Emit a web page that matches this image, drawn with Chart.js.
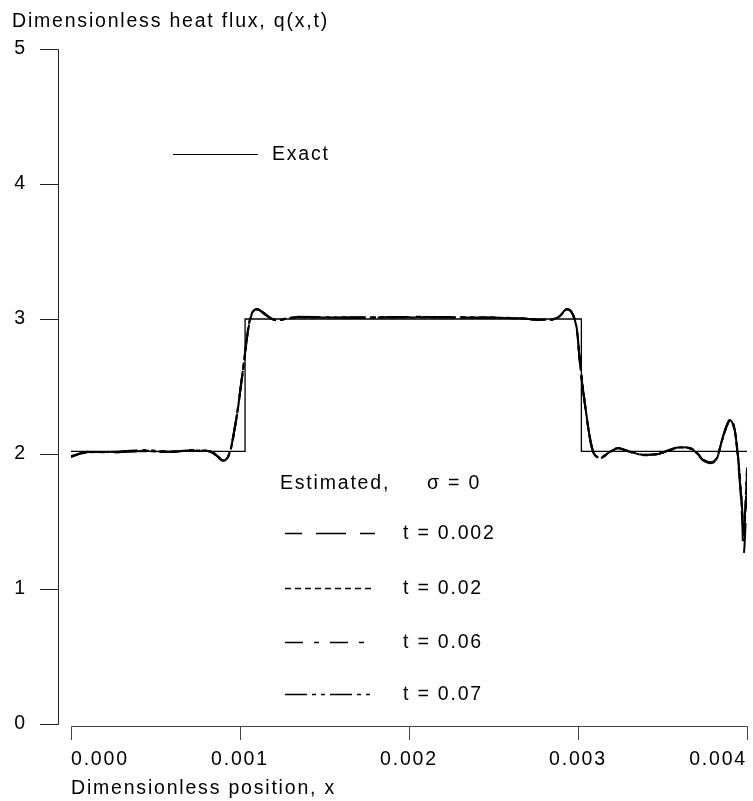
<!DOCTYPE html>
<html><head><meta charset="utf-8">
<script src="https://cdn.jsdelivr.net/npm/chart.js@4.4.1/dist/chart.umd.min.js"></script>
<style>html,body{margin:0;padding:0;background:#fff}canvas{display:block}</style>
</head><body>
<canvas id="c" width="753" height="801"></canvas>
<script>
// ---- data ----
const xTickValues = [0, 0.001, 0.002, 0.003, 0.004];
const yTickValues = [0, 1, 2, 3, 4, 5];
const yAxisTitle = 'Dimensionless heat flux, q(x,t)';
const xAxisTitle = 'Dimensionless position, x';

const exactX = [0, 0.00103, 0.00103, 0.00302, 0.00302, 0.004];
const exactQ = [2.02, 2.02, 3.0, 3.0, 2.02, 2.02];

const estX = [0.0, 0.0001, 0.00023, 0.00043, 0.00058, 0.00072, 0.00082, 0.00086, 0.0009, 0.00094,
  0.00098, 0.00102, 0.00105, 0.00107, 0.0011, 0.00114, 0.00118, 0.00122, 0.00128, 0.00134,
  0.00165, 0.00207, 0.00242, 0.00266, 0.00278, 0.00283, 0.00289, 0.002935, 0.00297, 0.002995,
  0.00301, 0.00303, 0.00309, 0.00313, 0.00319, 0.003237, 0.00329, 0.003385, 0.003467, 0.003527,
  0.003604, 0.003663, 0.003704, 0.00374, 0.003781, 0.003822, 0.003852, 0.003882, 0.003899, 0.003929,
  0.003947, 0.00397, 0.00398, 0.004];

const q_t0002 = [1.98, 2.015, 2.013, 2.022, 2.015, 2.028, 2.02, 1.99, 1.95, 2.015,
  2.28, 2.65, 2.94, 3.04, 3.075, 3.045, 3.007, 2.99, 3.005, 3.015,
  3.01, 3.015, 3.01, 3.005, 2.993, 2.993, 3.02, 3.075, 3.03, 2.9,
  2.7, 2.47, 2.015, 1.97, 2.017, 2.042, 2.024, 1.993, 1.998, 2.022,
  2.05, 2.042, 2.005, 1.956, 1.936, 1.968, 2.104, 2.215, 2.262, 2.17,
  1.95, 1.55, 1.26, 1.75];
const q_t002 = [1.985, 2.012, 2.015, 2.02, 2.018, 2.025, 2.022, 1.995, 1.955, 2.01,
  2.27, 2.64, 2.93, 3.035, 3.07, 3.04, 3.005, 2.992, 3.003, 3.012,
  3.012, 3.012, 3.012, 3.003, 2.995, 2.995, 3.018, 3.07, 3.035, 2.91,
  2.71, 2.48, 2.02, 1.975, 2.015, 2.04, 2.025, 1.995, 2.0, 2.02,
  2.048, 2.045, 2.01, 1.96, 1.94, 1.97, 2.1, 2.21, 2.25, 2.16,
  1.98, 1.61, 1.42, 1.8];
const q_t006 = [1.98, 2.016, 2.012, 2.025, 2.014, 2.03, 2.018, 1.99, 1.948, 2.02,
  2.28, 2.65, 2.945, 3.045, 3.075, 3.045, 3.008, 2.988, 3.006, 3.016,
  3.01, 3.016, 3.01, 3.006, 2.992, 2.992, 3.022, 3.075, 3.03, 2.9,
  2.69, 2.47, 2.01, 1.968, 2.018, 2.044, 2.022, 1.99, 1.996, 2.024,
  2.052, 2.04, 2.0, 1.952, 1.932, 1.965, 2.105, 2.22, 2.255, 2.165,
  1.975, 1.6, 1.4, 1.85];
const q_t007 = [1.982, 2.014, 2.014, 2.03, 2.016, 2.026, 2.02, 1.992, 1.952, 2.016,
  2.275, 2.645, 2.94, 3.04, 3.072, 3.042, 3.006, 2.99, 3.004, 3.014,
  3.011, 3.014, 3.011, 3.004, 2.994, 2.994, 3.02, 3.072, 3.032, 2.905,
  2.7, 2.475, 2.016, 1.972, 2.016, 2.042, 2.024, 1.994, 1.998, 2.022,
  2.05, 2.043, 2.006, 1.957, 1.938, 1.968, 2.1, 2.212, 2.25, 2.162,
  1.98, 1.62, 1.43, 1.9];

const estSeries = [q_t0002, q_t002, q_t006, q_t007];
const estLabels = ['t = 0.002', 't = 0.02', 't = 0.06', 't = 0.07'];
const exactLabel = 'Exact';
const estHeader = 'Estimated,';
const sigmaText = '\u03C3 = 0';

// ---- styles ----
const FONT = '"Liberation Sans", Arial, Helvetica, sans-serif';
const FS = 19.5;
const LS = '1.8px';
const dashes = [[30, 14], [6, 4], [18, 11, 5, 11], [22, 5, 4, 5, 4, 5]];
const legendDashOffsets = [13, 0, 0, 0];

const toPts = (xs, ys) => xs.map((x, i) => ({x: x, y: ys[i]}));

const datasets = [{
  label: exactLabel,
  data: toPts(exactX, exactQ),
  borderColor: '#000', borderWidth: 1.3, pointRadius: 0, tension: 0, fill: false
}].concat(estSeries.map((s, i) => ({
  label: estLabels[i],
  data: toPts(estX, s),
  borderColor: '#000', borderWidth: 2, borderDash: dashes[i],
  pointRadius: 0, cubicInterpolationMode: 'monotone', fill: false
})));

const spacingPlugin = {
  id: 'spacing',
  beforeLayout(chart) { chart.ctx.letterSpacing = LS; },
  beforeDraw(chart) {
    const ctx = chart.ctx;
    ctx.letterSpacing = LS;
    ctx.save(); ctx.fillStyle = '#fff'; ctx.fillRect(0, 0, chart.width, chart.height); ctx.restore();
  }
};

const axesPlugin = {
  id: 'detachedAxes',
  afterDraw(chart) {
    const ctx = chart.ctx, xs = chart.scales.x, ys = chart.scales.y;
    ctx.save();
    ctx.strokeStyle = '#222'; ctx.lineWidth = 1; ctx.setLineDash([]);
    const ax = 58.5;
    const yTop = Math.round(ys.getPixelForValue(yTickValues[yTickValues.length - 1])) + 0.5;
    const yBot = Math.round(ys.getPixelForValue(yTickValues[0])) + 0.5;
    ctx.beginPath(); ctx.moveTo(ax, yTop); ctx.lineTo(ax, yBot);
    yTickValues.forEach(v => { const p = Math.round(ys.getPixelForValue(v)) + 0.5; ctx.moveTo(40, p); ctx.lineTo(ax, p); });
    ctx.stroke();
    ctx.strokeStyle = '#444';
    const ay = 726.5;
    const xl = Math.round(xs.getPixelForValue(xTickValues[0])) + 0.5;
    const xr = Math.round(xs.getPixelForValue(xTickValues[xTickValues.length - 1])) + 0.5;
    ctx.beginPath(); ctx.moveTo(xl, ay); ctx.lineTo(xr, ay);
    xTickValues.forEach(v => { const p = Math.round(xs.getPixelForValue(v)) + 0.5; ctx.moveTo(p, ay); ctx.lineTo(p, 740); });
    ctx.stroke();
    ctx.restore();
  }
};

const legendPlugin = {
  id: 'paperLegend',
  afterDraw(chart) {
    const ctx = chart.ctx;
    ctx.save();
    ctx.font = FS + 'px ' + FONT;
    ctx.fillStyle = '#000'; ctx.strokeStyle = '#000';
    ctx.textBaseline = 'middle'; ctx.textAlign = 'left';
    ctx.lineWidth = 1.2; ctx.setLineDash([]);
    ctx.beginPath(); ctx.moveTo(173, 154.5); ctx.lineTo(258, 154.5); ctx.stroke();
    ctx.fillText(exactLabel, 272, 155);
    ctx.fillText(estHeader, 280, 484);
    ctx.fillText(sigmaText, 427, 484);
    const rows = [533, 588, 642, 694];
    estLabels.forEach((lab, i) => {
      ctx.lineWidth = 1.5; ctx.setLineDash(dashes[i]); ctx.lineDashOffset = legendDashOffsets[i];
      ctx.beginPath(); ctx.moveTo(285, rows[i] + 0.5); ctx.lineTo(375, rows[i] + 0.5); ctx.stroke();
      ctx.fillText(lab, 403, rows[i] + 1);
    });
    ctx.restore();
  }
};

new Chart(document.getElementById('c'), {
  type: 'line',
  data: { datasets: datasets },
  plugins: [spacingPlugin, axesPlugin, legendPlugin],
  options: {
    responsive: false, animation: false, devicePixelRatio: 1,
    layout: { padding: { left: 12, right: 6, top: 10, bottom: 0 } },
    plugins: {
      legend: { display: false },
      tooltip: { enabled: false },
      title: {
        display: true, text: yAxisTitle, align: 'start', color: '#000',
        font: { family: FONT, size: FS, weight: 'normal' },
        padding: { top: 0, bottom: 15.6 }
      }
    },
    scales: {
      x: {
        type: 'linear', min: 0, max: 0.004,
        afterFit(s) { s.height = 77; s.paddingLeft = 0; s.paddingRight = 0; },
        afterBuildTicks(s) { s.ticks = xTickValues.map(v => ({ value: v })); },
        grid: { display: false, drawTicks: false },
        border: { display: false },
        ticks: {
          align: 'inner', padding: 24, color: '#000', maxRotation: 0, autoSkip: false,
          font: { family: FONT, size: FS },
          callback: v => Number(v).toFixed(3)
        },
        title: {
          display: true, text: xAxisTitle, align: 'start', color: '#000',
          font: { family: FONT, size: FS }, padding: { top: 0, bottom: 1 }
        }
      },
      y: {
        type: 'linear', min: 0, max: 5,
        afterFit(s) { s.width = 59; s.paddingTop = 0; s.paddingBottom = 0; },
        afterBuildTicks(s) { s.ticks = yTickValues.map(v => ({ value: v })); },
        grid: { display: false, drawTicks: false },
        border: { display: false },
        ticks: {
          padding: 44, color: '#000', font: { family: FONT, size: FS },
          callback: v => String(v)
        }
      }
    }
  }
});
</script>
</body></html>
